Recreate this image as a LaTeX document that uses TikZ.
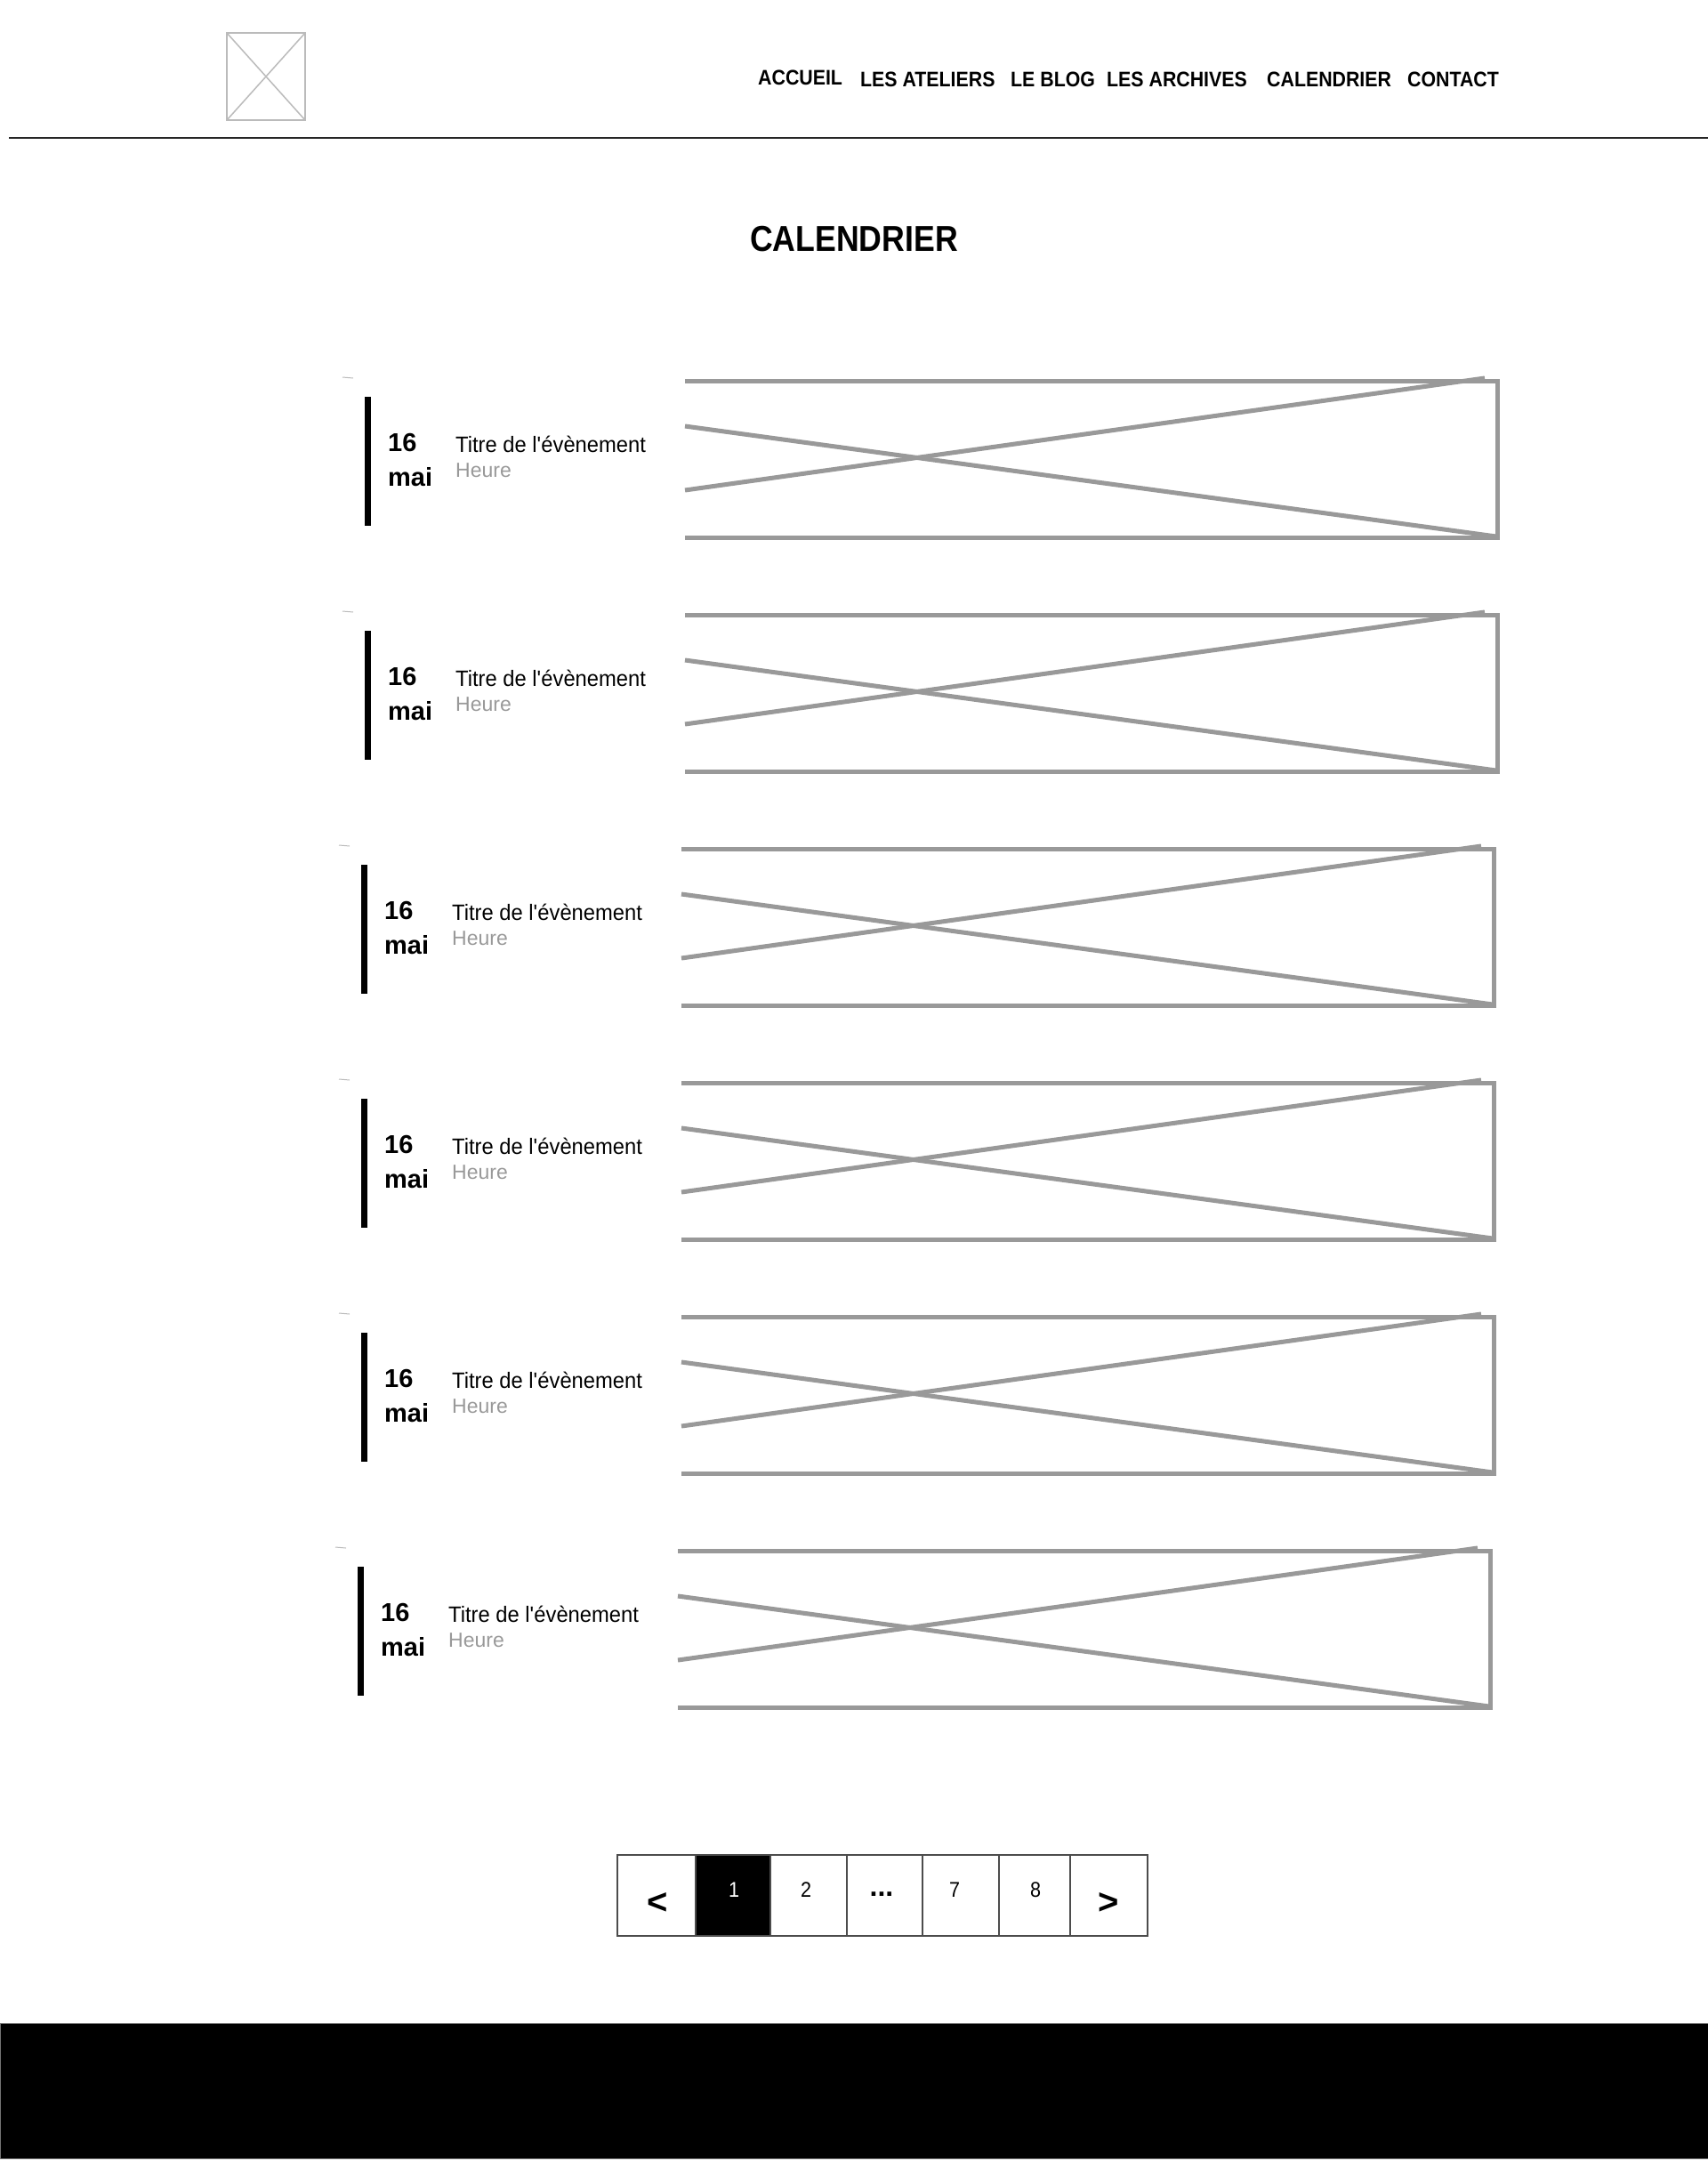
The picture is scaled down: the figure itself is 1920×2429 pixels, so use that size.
\documentclass[tikz,border=0pt]{standalone}
\usepackage{fontspec}
\setmainfont{Liberation Sans}
\newfontfamily\navfont{Liberation Sans}[FakeStretch=0.9]
\newfontfamily\headfont{Liberation Sans}[FakeStretch=0.88]
\newfontfamily\evfont{Liberation Sans}[FakeStretch=0.95]
\definecolor{phgrey}{HTML}{999999}
\definecolor{logogrey}{HTML}{BBBBBB}
\definecolor{timegrey}{HTML}{999999}
\tikzset{
  navitem/.style={anchor=base west, inner sep=0pt, font=\navfont\fontsize{23.7}{28}\selectfont\bfseries},
  pagetitle/.style={anchor=base west, inner sep=0pt, font=\headfont\fontsize{40.5}{48}\selectfont\bfseries},
  daynum/.style={anchor=base west, inner sep=0pt, font=\fontsize{29}{34}\selectfont\bfseries},
  evtitle/.style={anchor=base west, inner sep=0pt, font=\evfont\fontsize{25}{30}\selectfont},
  evtime/.style={anchor=base west, inner sep=0pt, text=timegrey, font=\fontsize{23}{28}\selectfont},
  ph/.style={draw=phgrey, line width=5pt, line join=miter},
  logoline/.style={draw=logogrey, line width=1.5pt},
  markline/.style={draw=logogrey, line width=1pt},
  pcell/.style={draw=black!70, line width=1.5pt, inner sep=0pt, anchor=north west},
  pnum/.style={anchor=base, inner sep=0pt, font=\navfont\fontsize{24}{28}\selectfont},
  parrow/.style={anchor=center, inner sep=0pt, font=\fontsize{40}{48}\selectfont\bfseries},
}
\begin{document}
\begin{tikzpicture}[x=1pt,y=-1pt]
\useasboundingbox (0,0) rectangle (1920,2429);
\fill[white] (0,0) rectangle (1920,2429);

% header logo placeholder
\draw[logoline] (255,37) rectangle (343,135);
\draw[logoline] (255,37) -- (343,135);
\draw[logoline] (343,37) -- (255,135);

% navigation
\node[navitem] (nav1) at (852,95) {ACCUEIL};
\node[navitem] (nav2) at (967,97) {LES ATELIERS};
\node[navitem] (nav3) at (1136,97) {LE BLOG};
\node[navitem] (nav4) at (1244,97) {LES ARCHIVES};
\node[navitem] (nav5) at (1424,97) {CALENDRIER};
\node[navitem] (nav6) at (1582,97) {CONTACT};

% header rule
\draw[black!85, line width=2pt] (10,155) -- (1920,155);

% page title
\node[pagetitle] (title) at (843,282) {CALENDRIER};

% events
\foreach \L/\T [count=\i] in {770/428, 770/691, 766/954, 766/1217, 766/1480, 762/1743} {
  \draw[markline] (\L-385,\T-4) -- (\L-373,\T-3);
  \fill[black] (\L-360,\T+18) rectangle (\L-353,\T+163);
  \node[daynum] (day\i) at (\L-334,\T+79) {16};
  \node[daynum] (mon\i) at (\L-334,\T+118) {mai};
  \node[evtitle] (tit\i) at (\L-258,\T+80) {Titre de l\textquotesingle évènement};
  \node[evtime] (hr\i) at (\L-258,\T+108) {Heure};
  \draw[ph] (\L,\T) -- (\L+913,\T) -- (\L+913,\T+176) -- (\L,\T+176);
  \draw[ph] (\L,\T+51) -- (\L+912,\T+175);
  \draw[ph] (\L,\T+123) -- (\L+899,\T-3);
}

% pagination
\node[pcell, minimum width=88pt, minimum height=91pt] (pc0) at (693,2084) {};
\node[pcell, fill=black, minimum width=84pt, minimum height=91pt] (pc1) at (781,2084) {};
\node[pcell, minimum width=86pt, minimum height=91pt] (pc2) at (865,2084) {};
\node[pcell, minimum width=85pt, minimum height=91pt] (pc3) at (951,2084) {};
\node[pcell, minimum width=86pt, minimum height=91pt] (pc4) at (1036,2084) {};
\node[pcell, minimum width=80pt, minimum height=91pt] (pc5) at (1122,2084) {};
\node[pcell, minimum width=87pt, minimum height=91pt] (pc6) at (1202,2084) {};
\node[parrow] (prev) at (739,2139) {<};
\node[pnum, text=white] (n1) at (825,2132) {1};
\node[pnum] (n2) at (906,2132) {2};
\node[pnum, font=\fontsize{32}{34}\selectfont\bfseries] (n3) at (991,2131) {...};
\node[pnum] (n7) at (1073,2132) {7};
\node[pnum] (n8) at (1164,2132) {8};
\node[parrow] (next) at (1246,2139) {>};

% footer
\fill[black, draw=black!55, line width=1pt] (0,2274) rectangle (1920,2426);
\end{tikzpicture}
\end{document}
